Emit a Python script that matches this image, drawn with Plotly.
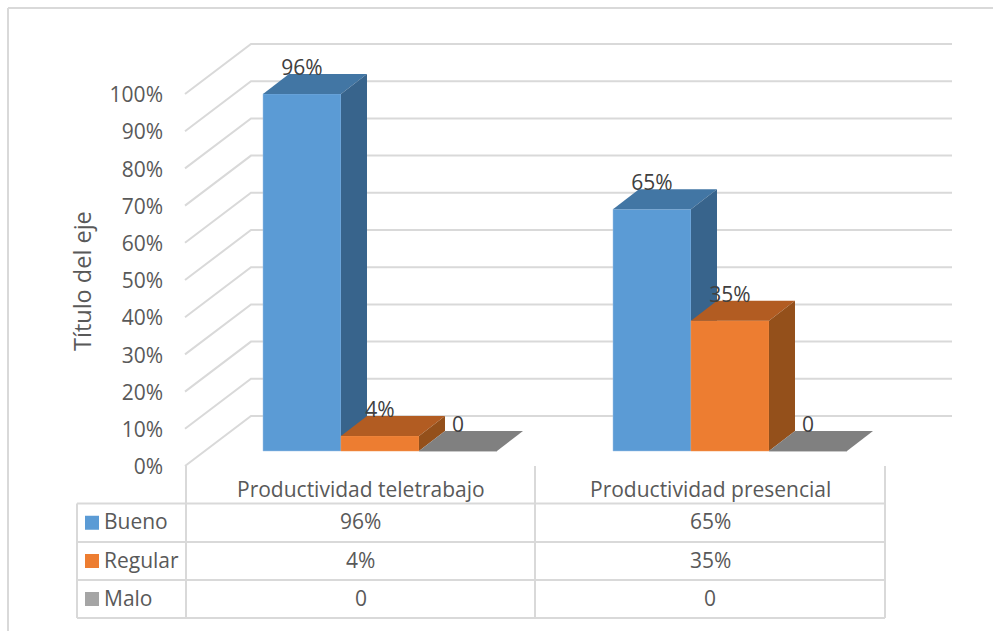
import plotly.graph_objects as go

# ---------- data ----------
categories = ["Productividad teletrabajo", "Productividad presencial"]
bueno = [96, 65]
regular = [4, 35]
malo = [0, 0]
bueno_labels = ["96%", "65%"]
regular_labels = ["4%", "35%"]
malo_labels = ["0", "0"]
y_ticks = [0, 10, 20, 30, 40, 50, 60, 70, 80, 90, 100]
axis_title = "Título del eje"

# ---------- style / layout ----------
W, H = 993, 631
FONT = "Open Sans"
TXT = "#595959"
LBL = "#404040"
GRID = "#D9D9D9"
PX_PER_CAT = 350.0
PX_PER_PCT = 3.72
CAT0_PX = 380.0
BAR_BASE_PX = 451.0
AXIS_BASE_PX = 466.0
TICK_SHIFT_PX = 0.8
BAR_W = 78.0 / PX_PER_CAT
DEPTH_X = 26.0 / PX_PER_CAT
DEPTH_Y = 20.0 / PX_PER_PCT
LABEL_LIFT = 24.0 / PX_PER_PCT
WALL_FRONT_X = (185.0 - CAT0_PX) / PX_PER_CAT
WALL_BACK_X = (251.0 - CAT0_PX) / PX_PER_CAT
WALL_RIGHT_X = (952.0 - CAT0_PX) / PX_PER_CAT
WALL_LIFT = 50.0 / PX_PER_PCT
FRONT_LIFT = TICK_SHIFT_PX / PX_PER_PCT

x_range = [-CAT0_PX / PX_PER_CAT, (W - CAT0_PX) / PX_PER_CAT]
bar_y_range = [(BAR_BASE_PX - H) / PX_PER_PCT, BAR_BASE_PX / PX_PER_PCT]
base_y_range = [(AXIS_BASE_PX + TICK_SHIFT_PX - H) / PX_PER_PCT,
                (AXIS_BASE_PX + TICK_SHIFT_PX) / PX_PER_PCT]

series = [
    ("Bueno", bueno, bueno_labels, "#5B9BD5", "#4276A4", "#38648C", -1.5, "2", "#9CC3E6"),
    ("Regular", regular, regular_labels, "#ED7D31", "#B25C22", "#94501B", -0.5, "3", "#F0904F"),
    ("Malo", malo, malo_labels, "#A5A5A5", "#808080", "#6E6E6E", 0.5, "4", "#808080"),
]

fig = go.Figure()

# wall gridlines, on the base axis that carries the tick labels
for t in y_ticks:
    fig.add_trace(go.Scatter(
        x=[WALL_FRONT_X, WALL_BACK_X, WALL_RIGHT_X],
        y=[t + FRONT_LIFT, t + FRONT_LIFT + WALL_LIFT, t + FRONT_LIFT + WALL_LIFT],
        mode="lines", line=dict(color=GRID, width=2),
        hoverinfo="skip", showlegend=False))

# one overlay per series, so that later series cover the sides of earlier ones
for name, vals, labels, front, top, side, slot, ax, edge in series:
    xa, ya = "x" + ax, "y" + ax
    fig.add_trace(go.Bar(
        x=list(range(len(vals))), y=vals, name=name, width=BAR_W,
        offset=slot * BAR_W, marker=dict(color=front, line=dict(color=edge, width=0.5)),
        xaxis=xa, yaxis=ya, showlegend=False))
    for i, v in enumerate(vals):
        l = i + slot * BAR_W
        r = l + BAR_W
        # top face
        fig.add_trace(go.Scatter(
            x=[l, r, r + DEPTH_X, l + DEPTH_X, l],
            y=[v, v, v + DEPTH_Y, v + DEPTH_Y, v],
            fill="toself", fillcolor=top, mode="lines", line=dict(width=0, color=top),
            xaxis=xa, yaxis=ya, hoverinfo="skip", showlegend=False))
        # side face
        if v > 0:
            fig.add_trace(go.Scatter(
                x=[r, r + DEPTH_X, r + DEPTH_X, r, r],
                y=[v, v + DEPTH_Y, DEPTH_Y, 0, v],
                fill="toself", fillcolor=side, mode="lines", line=dict(width=0, color=side),
                xaxis=xa, yaxis=ya, hoverinfo="skip", showlegend=False))

# data labels on the top layer
for name, vals, labels, front, top, side, slot, ax, edge in series:
    fig.add_trace(go.Scatter(
        x=[i + (slot + 0.5) * BAR_W for i in range(len(vals))],
        y=[v + LABEL_LIFT for v in vals],
        text=labels, mode="text", textposition="middle center",
        textfont=dict(family=FONT, size=21, color=LBL),
        xaxis="x4", yaxis="y4", hoverinfo="skip", showlegend=False))


def px(p):
    return p / W


def py(p):
    return 1 - p / H


line = dict(color=GRID, width=2)
shapes = []


def add_line(x0, y0, x1, y1, ln=line):
    shapes.append(dict(type="line", xref="paper", yref="paper",
                       x0=px(x0), y0=py(y0), x1=px(x1), y1=py(y1), line=ln))


# chart frame (top and left only are visible)
add_line(8, 8, W, 8)
add_line(8, 8, 8, H)

# data table
row_y = [503.5, 542, 580, 618]
col_x = [186, 535, 885]
for yy in row_y:
    add_line(77, yy, 885, yy)
add_line(77, 503.5, 77, 618)
for xx in col_x:
    add_line(xx, 466, xx, 618)

annotations = []


def add_text(x, y, text, size=21, color=TXT, xanchor="center", angle=0):
    annotations.append(dict(x=px(x), y=py(y), xref="paper", yref="paper", text=text,
                            showarrow=False, xanchor=xanchor, yanchor="middle", textangle=angle,
                            font=dict(family=FONT, size=size, color=color)))


col_centres = [(col_x[0] + col_x[1]) / 2, (col_x[1] + col_x[2]) / 2]
for c, cat in zip(col_centres, categories):
    add_text(c, 489, cat)
row_centres = [(row_y[i] + row_y[i + 1]) / 2 - 1.5 for i in range(3)]
for rc, (name, vals, labels, front, top, side, slot, ax, edge) in zip(row_centres, series):
    shapes.append(dict(type="rect", xref="paper", yref="paper", line=dict(width=0),
                       x0=px(85), x1=px(99), y0=py(rc + 8.5), y1=py(rc - 5.5), fillcolor=front))
    add_text(102, rc, name, xanchor="left")
    for c, lab in zip(col_centres, labels):
        add_text(c, rc, lab)

add_text(82, 281, axis_title, size=23.5, angle=-90)

hidden = dict(visible=False, showgrid=False, zeroline=False, fixedrange=True)
fig.update_layout(
    width=W, height=H, margin=dict(l=0, r=0, t=0, b=0),
    paper_bgcolor="white", plot_bgcolor="white",
    showlegend=False, shapes=shapes, annotations=annotations,
    xaxis=dict(hidden, range=x_range, domain=[0, 1]),
    yaxis=dict(range=base_y_range, domain=[0, 1], anchor="free", position=163 / W,
               tickmode="array", tickvals=y_ticks, ticktext=[f"{t}%" for t in y_ticks],
               showgrid=False, zeroline=False, showline=False, ticks="", fixedrange=True,
               tickfont=dict(family=FONT, size=21, color=TXT)),
)
for ax in ["2", "3", "4"]:
    fig.update_layout(**{
        "xaxis" + ax: dict(hidden, range=x_range, overlaying="x", anchor="y" + ax),
        "yaxis" + ax: dict(hidden, range=bar_y_range, overlaying="y", anchor="x" + ax),
    })

fig.write_html("out.html", config=dict(displayModeBar=False),
               post_script="document.body.style.margin='0';")
